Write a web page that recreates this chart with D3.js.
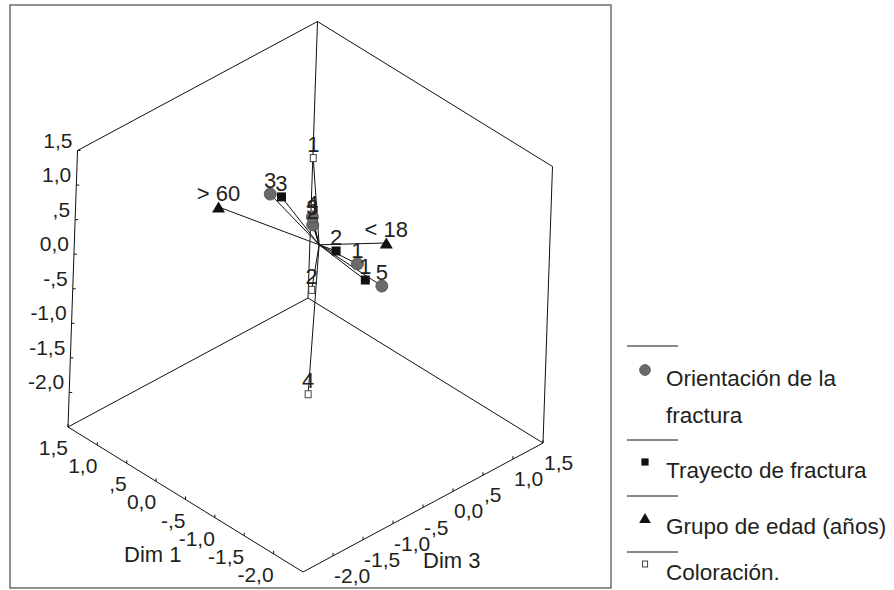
<!DOCTYPE html>
<html>
<head>
<meta charset="utf-8">
<script src="https://cdn.jsdelivr.net/npm/d3@7"></script>
<style>
  html, body { margin: 0; padding: 0; background: #fff; }
  svg { display: block; font-family: "Liberation Sans", Arial, sans-serif; }
</style>
</head>
<body>
<svg id="chart" width="894" height="590"></svg>
<script>
// ---------------- DATA ----------------
const axisDomain = [-2.5, 1.5];
const tickValues = [-2.0, -1.5, -1.0, -0.5, 0.0, 0.5, 1.0, 1.5];
const tickLabels = ["-2,0", "-1,5", "-1,0", "-,5", "0,0", ",5", "1,0", "1,5"];
const axisTitles = ["Dim 1", "Dim 2", "Dim 3"];

const seriesNames = ["Orientación de la fractura", "Trayecto de fractura", "Grupo de edad (años)", "Coloración."];

// Orientación de la fractura
const orientLabels = ["1", "2", "3", "4", "5"];
const orientDim1 = [-0.59, 0.04, 0.53, 0.06, -1.01];
const orientDim2 = [-0.30, 0.00, 0.30, 0.10, -0.40];
const orientDim3 = [0.19, 0.05, -0.19, 0.06, 0.19];

// Trayecto de fractura
const trayLabels = ["1", "2", "3"];
const trayDim1 = [-0.79, -0.33, 0.40];
const trayDim2 = [-0.40, -0.20, 0.30];
const trayDim3 = [0.13, 0.085, -0.13];

// Grupo de edad (años)
const edadLabels = ["> 60", "< 18"];
const edadDim1 = [1.05, -0.51];
const edadDim2 = [0.00, -0.30];
const edadDim3 = [-0.53, 0.75];

// Coloración
const colorLabels = ["1", "2", "3", "4"];
const colorDim1 = [0.02, -0.01, 0.00, -0.02];
const colorDim2 = [1.00, -0.90, 0.10, -2.40];
const colorDim3 = [0.00, 0.02, 0.00, 0.01];

// ---------------- LAYOUT ----------------
const svg = d3.select("#chart");
const ink = "#231f20";

// Projection of the 3D box: front-bottom corner and the three edge vectors
const F = [303, 572];
const E1 = [-235, -145];   // Dim 1 edge
const E2 = [9.5, -276.5];  // Dim 2 (vertical) edge
const E3 = [240, -129];    // Dim 3 edge

const s1 = d3.scaleLinear().domain(axisDomain).range([0, 1]);
const s2 = d3.scaleLinear().domain(axisDomain).range([0, 1]);
const s3 = d3.scaleLinear().domain(axisDomain).range([0, 1]);

function proj(d1, d2, d3v) {
  const a = s1(d1), b = s2(d2), c = s3(d3v);
  return [F[0] + a * E1[0] + b * E2[0] + c * E3[0],
          F[1] + a * E1[1] + b * E2[1] + c * E3[1]];
}

// outer frame
svg.append("rect").attr("x", 10).attr("y", 5).attr("width", 601).attr("height", 583)
  .attr("fill", "none").attr("stroke", "#6d6d6d").attr("stroke-width", 1.5);

// cube edges (back walls + floor)
const lo = axisDomain[0], hi = axisDomain[1];
const edges = [
  [[hi, lo, lo], [lo, lo, lo]],
  [[lo, lo, lo], [lo, lo, hi]],
  [[hi, lo, lo], [hi, lo, hi]],
  [[lo, lo, hi], [hi, lo, hi]],
  [[hi, lo, lo], [hi, hi, lo]],
  [[lo, lo, hi], [lo, hi, hi]],
  [[hi, lo, hi], [hi, hi, hi]],
  [[hi, hi, lo], [hi, hi, hi]],
  [[lo, hi, hi], [hi, hi, hi]]
];
const line = d3.line();
svg.append("g").selectAll("path").data(edges).join("path")
  .attr("d", e => line([proj(...e[0]), proj(...e[1])]))
  .attr("fill", "none").attr("stroke", "#111").attr("stroke-width", 1);

// ticks & labels
const gAx = svg.append("g").attr("fill", ink).attr("font-size", 21);
tickValues.forEach((v, i) => {
  const pv = proj(hi, v, lo);
  gAx.append("line").attr("x1", pv[0]).attr("y1", pv[1]).attr("x2", pv[0] + 3).attr("y2", pv[1])
    .attr("stroke", "#111");
  gAx.append("text").attr("x", pv[0] - 5).attr("y", pv[1] - 3).attr("text-anchor", "end").text(tickLabels[i]);
  const p1 = proj(v, lo, lo);
  gAx.append("line").attr("x1", p1[0]).attr("y1", p1[1]).attr("x2", p1[0]).attr("y2", p1[1] - 3)
    .attr("stroke", "#111");
  gAx.append("text").attr("x", p1[0]).attr("y", p1[1] + 28).attr("text-anchor", "end").text(tickLabels[i]);
  const p3 = proj(lo, lo, v);
  gAx.append("line").attr("x1", p3[0]).attr("y1", p3[1]).attr("x2", p3[0]).attr("y2", p3[1] - 3)
    .attr("stroke", "#111");
  gAx.append("text").attr("x", p3[0] + 1).attr("y", p3[1] + 27).attr("text-anchor", "start").text(tickLabels[i]);
});
const m1 = proj(-0.5, lo, lo);
gAx.append("text").attr("x", m1[0] - 4).attr("y", m1[1] + 62).attr("text-anchor", "end")
  .attr("font-size", 22).text(axisTitles[0]);
const m3 = proj(lo, lo, -0.5);
gAx.append("text").attr("x", m3[0]).attr("y", m3[1] + 60).attr("text-anchor", "start")
  .attr("font-size", 22).text(axisTitles[2]);

// ---------------- POINTS ----------------
function build(labels, a, b, c, type) {
  return labels.map((l, i) => ({ label: l, d1: a[i], d2: b[i], d3: c[i], type }));
}
const series = [
  build(orientLabels, orientDim1, orientDim2, orientDim3, "circle"),
  build(trayLabels, trayDim1, trayDim2, trayDim3, "square"),
  build(edadLabels, edadDim1, edadDim2, edadDim3, "triangle"),
  build(colorLabels, colorDim1, colorDim2, colorDim3, "open")
];
const all = series.flat();
const cen = [d3.mean(all, d => d.d1), d3.mean(all, d => d.d2), d3.mean(all, d => d.d3)];
const pc = proj(...cen);

svg.append("g").selectAll("path").data(all).join("path")
  .attr("d", d => line([pc, proj(d.d1, d.d2, d.d3)]))
  .attr("stroke", "#111").attr("stroke-width", 1).attr("fill", "none");

function drawMarker(g, type, x, y, scale) {
  const k = scale || 1;
  if (type === "circle") {
    g.append("circle").attr("cx", x).attr("cy", y).attr("r", 6 * k)
      .attr("fill", "#6a6a6a").attr("stroke", "#4a4a4a").attr("stroke-width", 0.8);
  } else if (type === "square") {
    const s = 9 * k;
    g.append("rect").attr("x", x - s / 2).attr("y", y - s / 2).attr("width", s).attr("height", s)
      .attr("fill", "#111");
  } else if (type === "triangle") {
    const w = 13 * k, h = 11 * k;
    g.append("path").attr("d", `M${x},${y - h / 2}L${x + w / 2},${y + h / 2}L${x - w / 2},${y + h / 2}Z`)
      .attr("fill", "#111");
  } else {
    const w = 6 * k, h = 7 * k;
    g.append("rect").attr("x", x - w / 2).attr("y", y - h / 2).attr("width", w).attr("height", h)
      .attr("fill", "#fff").attr("stroke", "#444").attr("stroke-width", 1);
  }
}

const gPts = svg.append("g");
series.slice().reverse().forEach(ser => {
  ser.forEach(d => {
    const p = proj(d.d1, d.d2, d.d3);
    drawMarker(gPts, d.type, p[0], p[1]);
  });
});
const gLab = svg.append("g").attr("font-size", 22).attr("fill", ink).attr("text-anchor", "middle");
all.forEach(d => {
  const p = proj(d.d1, d.d2, d.d3);
  gLab.append("text").attr("x", p[0]).attr("y", p[1] - 6).text(d.label);
});

// ---------------- LEGEND ----------------
const gLeg = svg.append("g").attr("font-size", 22.5).attr("fill", ink);
const legLineY = [346, 440, 496, 552];
const legTextY = [[386, 423], [478], [534], [580]];
const legTexts = [["Orientación de la", "fractura"], [seriesNames[1]], [seriesNames[2]], [seriesNames[3]]];
const legTypes = ["circle", "square", "triangle", "open"];
const legScale = [0.9, 0.8, 0.9, 0.85];
legLineY.forEach((ly, i) => {
  gLeg.append("line").attr("x1", 627).attr("x2", 678).attr("y1", ly).attr("y2", ly)
    .attr("stroke", "#111").attr("stroke-width", 1);
  drawMarker(gLeg, legTypes[i], 645, legTextY[i][0] - 16, legScale[i]);
  legTexts[i].forEach((t, j) => {
    gLeg.append("text").attr("x", 666).attr("y", legTextY[i][j]).text(t);
  });
});
</script>
</body>
</html>
